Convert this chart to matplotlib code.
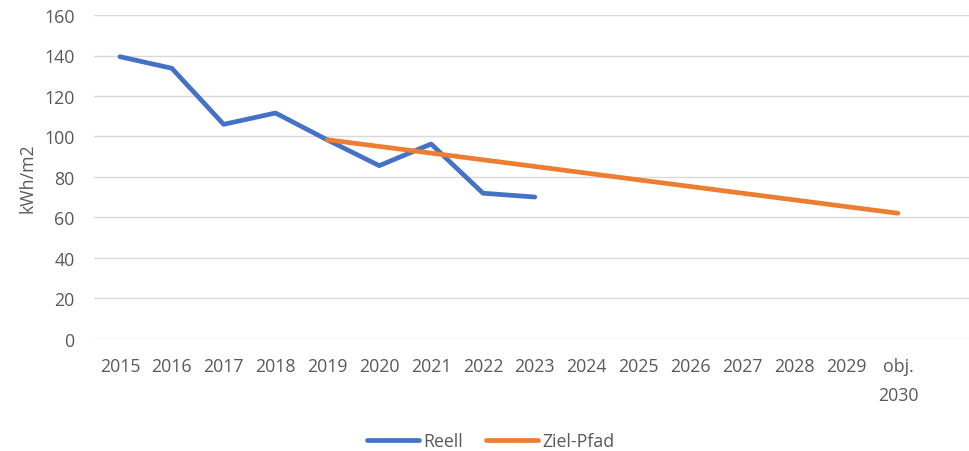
"""
Energieverbrauch kWh/m2: Reell vs. Ziel-Pfad bis 2030
"""

import matplotlib
matplotlib.use("Agg")
import matplotlib.pyplot as plt

categories = ["2015", "2016", "2017", "2018", "2019", "2020", "2021", "2022",
              "2023", "2024", "2025", "2026", "2027", "2028", "2029", "obj.\n2030"]

# Reell: 2015 .. 2023
reell = [139.4, 133.7, 106.0, 111.6, 98.3, 85.6, 96.3, 72.0, 70.1]
# Ziel-Pfad: 2019 .. 2030
ziel = [98.4, 95.1, 91.8, 88.5, 85.2, 81.9, 78.6, 75.3, 72.0, 68.7, 65.4, 62.1]
ziel_start = 4

yticks = [0, 20, 40, 60, 80, 100, 120, 140, 160]

BLUE = "#4472C4"
ORANGE = "#ED7D31"
TEXT = "#595959"
GRID = "#D9D9D9"
FS = 12.8

plt.rcParams["font.family"] = ["Open Sans", "DejaVu Sans"]

fig = plt.figure(figsize=(9.7, 4.52), dpi=100)
ax = fig.add_axes([0.0969, 0.2478, 0.9031, 0.7168])

x_reell = list(range(len(reell)))
x_ziel = list(range(ziel_start, ziel_start + len(ziel)))

ax.plot(x_reell, reell, color=BLUE, lw=3.4, solid_capstyle="round",
        solid_joinstyle="round", label="Reell", zorder=3)
ax.plot(x_ziel, ziel, color=ORANGE, lw=3.4, solid_capstyle="round",
        solid_joinstyle="round", label="Ziel-Pfad", zorder=3)

ax.set_xlim(-0.5, 16.39)
ax.set_ylim(0, 160)
ax.set_yticks(yticks)
ax.set_xticks(range(len(categories)))
ax.set_xticklabels(categories, linespacing=1.75)

ax.grid(axis="y", color=GRID, lw=1.0)
ax.set_axisbelow(True)
for s in ax.spines.values():
    s.set_visible(False)

ax.tick_params(axis="both", length=0, labelsize=FS, labelcolor=TEXT)
ax.tick_params(axis="y", pad=14)
ax.tick_params(axis="x", pad=13)

ax.set_ylabel("kWh/m2", fontsize=FS, color=TEXT)
ax.yaxis.set_label_coords(-0.066, 0.5)

fig.legend(loc="center", bbox_to_anchor=(0.506, 0.022), ncol=2, frameon=False,
           fontsize=FS, labelcolor=TEXT, handlelength=2.9, handletextpad=0.25,
           columnspacing=1.3)

fig.savefig("out.png", dpi=100)
